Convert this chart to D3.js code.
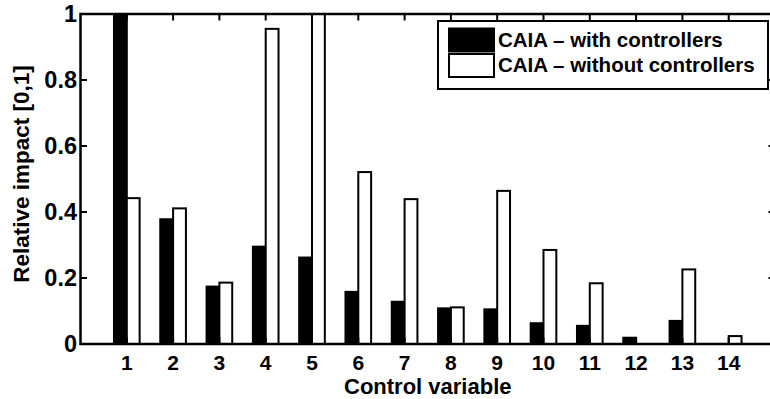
<!DOCTYPE html>
<html>
<head>
<meta charset="utf-8">
<script src="https://cdn.jsdelivr.net/npm/d3@7"></script>
<style>
  html, body { margin: 0; padding: 0; background: #fff; }
  svg { display: block; font-family: "Liberation Sans", Arial, sans-serif; font-weight: bold; }
</style>
</head>
<body>
<svg id="chart" width="770" height="399"></svg>
<script>
// Control variables 1..14 and the relative impact of each, per CAIA variant
const categories = [1, 2, 3, 4, 5, 6, 7, 8, 9, 10, 11, 12, 13, 14];
const withControllers    = [1.0, 0.378, 0.174, 0.295, 0.262, 0.158, 0.128, 0.108, 0.105, 0.063, 0.055, 0.019, 0.070, 0.0];
const withoutControllers = [0.442, 0.411, 0.186, 0.955, 1.0, 0.521, 0.439, 0.111, 0.464, 0.285, 0.184, 0.0, 0.226, 0.024];
const yTicks = [0, 0.2, 0.4, 0.6, 0.8, 1];
const yTickLabels = ["0", "0.2", "0.4", "0.6", "0.8", "1"];
const seriesNames = ["CAIA \u2013 with controllers", "CAIA \u2013 without controllers"];
const seriesFill = ["#000000", "#ffffff"];

const svg = d3.select("#chart");
const mLeft = 80.5, mRight = 775, mTop = 14, mBottom = 344;

const x = d3.scaleLinear().domain([0, 15]).range([mLeft, mRight]);
const y = d3.scaleLinear().domain([0, 1]).range([mBottom, mTop]);

const barW = 0.277; // width of each bar in category units
const series = [withControllers, withoutControllers];

const plot = svg.append("g");

series.forEach((vals, si) => {
  plot.append("g")
    .selectAll("rect")
    .data(categories.map((c, i) => ({ c, v: vals[i] })))
    .join("rect")
    .attr("x", d => x(d.c + (si === 0 ? -barW : 0)))
    .attr("width", x(barW) - x(0))
    .attr("y", d => y(d.v))
    .attr("height", d => y(0) - y(d.v))
    .attr("fill", seriesFill[si])
    .attr("stroke", "#000")
    .attr("stroke-width", 2);
});

const tickLen = 6.5;
const axisW = 2.5;

// Axis box
plot.append("rect")
  .attr("x", mLeft).attr("y", mTop)
  .attr("width", mRight - mLeft).attr("height", mBottom - mTop)
  .attr("fill", "none").attr("stroke", "#000").attr("stroke-width", axisW);

// Inward ticks on all four sides
const tickG = plot.append("g").attr("stroke", "#000").attr("stroke-width", 2);
categories.forEach(c => {
  tickG.append("line").attr("x1", x(c)).attr("x2", x(c)).attr("y1", mTop).attr("y2", mTop + tickLen);
  tickG.append("line").attr("x1", x(c)).attr("x2", x(c)).attr("y1", mBottom).attr("y2", mBottom - tickLen);
});
yTicks.forEach(t => {
  tickG.append("line").attr("x1", mLeft).attr("x2", mLeft + tickLen).attr("y1", y(t)).attr("y2", y(t));
  tickG.append("line").attr("x1", mRight).attr("x2", mRight - tickLen).attr("y1", y(t)).attr("y2", y(t));
});

// Y tick labels
svg.append("g").selectAll("text")
  .data(yTicks)
  .join("text")
  .attr("x", mLeft - 3.5)
  .attr("y", d => y(d))
  .attr("dy", "0.36em")
  .attr("text-anchor", "end")
  .attr("font-size", 23.5)
  .text((d, i) => yTickLabels[i]);

// X tick labels
svg.append("g").selectAll("text")
  .data(categories)
  .join("text")
  .attr("x", d => x(d))
  .attr("y", 369.5)
  .attr("text-anchor", "middle")
  .attr("font-size", 21)
  .text(d => d);

// Axis titles
svg.append("text")
  .attr("x", (mLeft + mRight) / 2)
  .attr("y", 394)
  .attr("text-anchor", "middle")
  .attr("font-size", 22)
  .text("Control variable");

svg.append("text")
  .attr("transform", "translate(28.5, 174) rotate(-90)")
  .attr("text-anchor", "middle")
  .attr("font-size", 22.5)
  .text("Relative impact [0,1]");

// Legend
const lg = svg.append("g");
lg.append("rect")
  .attr("x", 438).attr("y", 21).attr("width", 330).attr("height", 68)
  .attr("fill", "#fff").attr("stroke", "#000").attr("stroke-width", 2);
seriesNames.forEach((name, i) => {
  lg.append("rect")
    .attr("x", 449).attr("y", 28.5 + i * 25.5).attr("width", 45).attr("height", 23)
    .attr("fill", seriesFill[i]).attr("stroke", "#000").attr("stroke-width", 2);
  lg.append("text")
    .attr("x", 498).attr("y", 46.5 + i * 25.5)
    .attr("font-size", 20.5)
    .text(name);
});
</script>
</body>
</html>
